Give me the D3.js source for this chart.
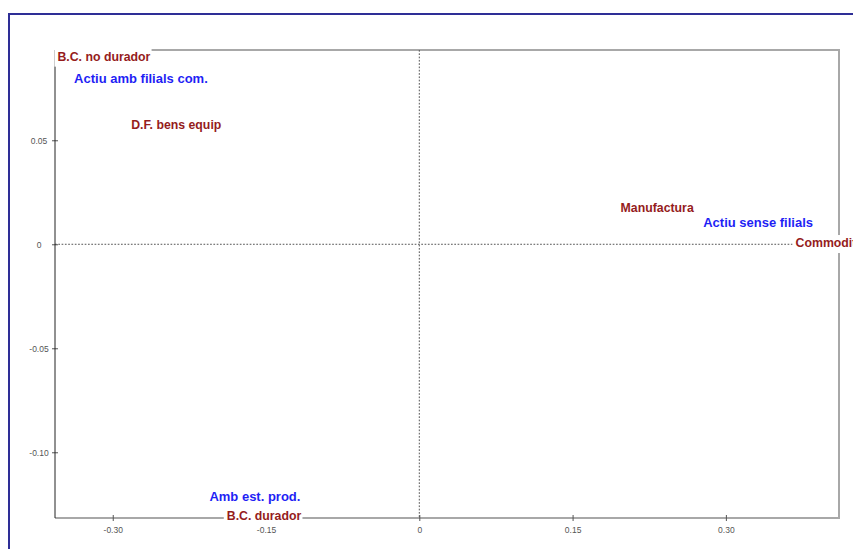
<!DOCTYPE html>
<html>
<head>
<meta charset="utf-8">
<script src="https://cdn.jsdelivr.net/npm/d3@7"></script>
<style>
  html, body { margin: 0; padding: 0; background: #fff; overflow: hidden; }
  svg { display: block; }
</style>
</head>
<body>
<svg id="chart" width="853" height="549"></svg>
<script>
// Factorial map: modalities projected on the first two axes
const labels  = ["B.C. no durador", "Actiu amb filials com.", "D.F. bens equip", "Manufactura",
                 "Actiu sense filials", "Commodities", "Amb est. prod.", "B.C. durador"];
const axis1   = [-0.3541, -0.3378, -0.2820, 0.1970, 0.2778, 0.3682, -0.2054, -0.1884];
const axis2   = [ 0.0902,  0.0797,  0.0574, 0.0178, 0.0106, 0.0006, -0.1213, -0.1306];
const groups  = ["sector", "filials", "sector", "sector", "filials", "sector", "filials", "sector"];

const xTicks = [-0.30, -0.15, 0, 0.15, 0.30];
const xTickLabels = ["-0.30", "-0.15", "0", "0.15", "0.30"];
const yTicks = [0.05, 0, -0.05, -0.10];
const yTickLabels = ["0.05", "0", "-0.05", "-0.10"];

const xDomain = [-0.3565, 0.4107];
const yDomain = [-0.1316, 0.0934];

const colors = { sector: "#951c1c", filials: "#1f1ff5" };
const sizes  = { sector: 12.3, filials: 13 };

const svg = d3.select("#chart");
const W = 853, H = 549;
const plotL = 55, plotR = 839, plotT = 50, plotB = 518;

const x = d3.scaleLinear().domain(xDomain).range([plotL, plotR]);
const y = d3.scaleLinear().domain(yDomain).range([plotB, plotT]);

// outer window frame
svg.append("rect")
  .attr("x", 9).attr("y", 14)
  .attr("width", W + 20).attr("height", H + 20)
  .attr("fill", "none").attr("stroke", "#2e2e96").attr("stroke-width", 2);

// plot frame: gray top, right and bottom
svg.append("path")
  .attr("d", `M${plotL},${plotT}H${plotR}V${plotB}H${plotL}`)
  .attr("fill", "none").attr("stroke", "#a8a8a8").attr("stroke-width", 2);

// zero reference lines
const dash = "1.7,1.6";
svg.append("line")
  .attr("x1", plotL).attr("x2", plotR).attr("y1", y(0)).attr("y2", y(0))
  .attr("stroke", "#555").attr("stroke-dasharray", dash);
svg.append("line")
  .attr("x1", x(0)).attr("x2", x(0)).attr("y1", plotT).attr("y2", plotB)
  .attr("stroke", "#555").attr("stroke-dasharray", dash);

// bottom axis
const xAxis = d3.axisBottom(x).tickValues(xTicks)
  .tickFormat((d, i) => xTickLabels[i]).tickSize(6).tickPadding(9);
const gx = svg.append("g").attr("transform", `translate(0,${plotB - 3})`).call(xAxis);
gx.select(".domain").remove();
gx.selectAll(".tick line").attr("stroke", "#555");
gx.selectAll(".tick text")
  .attr("fill", "#555").attr("font-family", "Liberation Sans, Arial, sans-serif")
  .attr("font-size", 8.5).attr("dy", "0.3em");

// left axis
const yAxis = d3.axisLeft(y).tickValues(yTicks)
  .tickFormat((d, i) => yTickLabels[i]).tickSize(6).tickPadding(0);
const gy = svg.append("g").attr("transform", `translate(${plotL + 3},0)`).call(yAxis);
gy.select(".domain").remove();
gy.selectAll(".tick line").attr("stroke", "#555");
gy.selectAll(".tick text")
  .attr("fill", "#555").attr("font-family", "Liberation Sans, Arial, sans-serif")
  .attr("font-size", 8.5).attr("text-anchor", "middle").attr("x", -19);
svg.append("line")
  .attr("x1", plotL).attr("x2", plotL).attr("y1", plotT).attr("y2", plotB)
  .attr("stroke", "#222").attr("stroke-width", 1);

// modality labels with white backing
const pts = labels.map((t, i) => ({ t, a: axis1[i], b: axis2[i], g: groups[i] }));
const lg = svg.append("g");
pts.forEach(p => {
  const g = lg.append("g");
  const rect = g.append("rect").attr("fill", "#fff");
  const txt = g.append("text")
    .attr("x", x(p.a)).attr("y", y(p.b))
    .attr("dy", "0.36em")
    .attr("fill", colors[p.g])
    .attr("font-family", "Liberation Sans, Arial, sans-serif")
    .attr("font-weight", "bold")
    .attr("font-size", sizes[p.g])
    .text(p.t);
  const bb = txt.node().getBBox();
  rect.attr("x", bb.x - 3).attr("y", y(p.b) - 8)
    .attr("width", bb.width + 4).attr("height", 18);
});
</script>
</body>
</html>
